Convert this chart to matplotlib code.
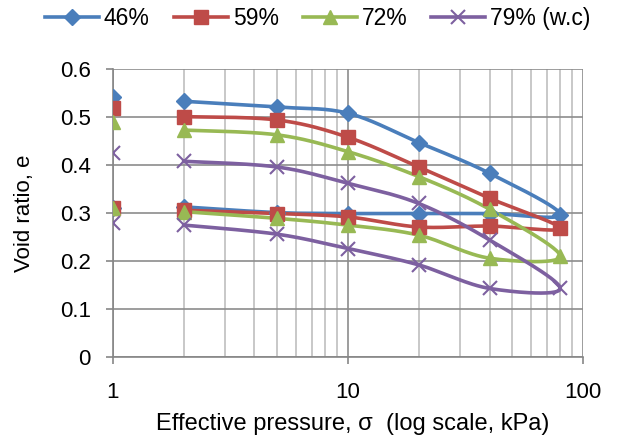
import numpy as np
import matplotlib.pyplot as plt
from matplotlib.ticker import FixedLocator, NullFormatter

plt.rcParams['font.family'] = ['Liberation Sans', 'DejaVu Sans']

# pressure steps: loading 2 -> 80 kPa, then unloading back to 2 kPa
pressure = [2, 5, 10, 20, 40, 80, 40, 20, 10, 5, 2]
labels = ['46%', '59%', '72%', '79% (w.c)']

e_46 = [0.533, 0.521, 0.508, 0.447, 0.383, 0.297, 0.299, 0.299, 0.299, 0.301, 0.313]
e_59 = [0.501, 0.494, 0.458, 0.396, 0.331, 0.268, 0.273, 0.271, 0.292, 0.299, 0.306]
e_72 = [0.473, 0.463, 0.428, 0.376, 0.308, 0.210, 0.206, 0.254, 0.275, 0.289, 0.303]
e_79 = [0.408, 0.396, 0.362, 0.320, 0.244, 0.143, 0.143, 0.192, 0.226, 0.256, 0.275]

# isolated readings at 1 kPa (start and end)
p_start = [1, 1]
e_start_46 = [0.542, 0.311]
e_start_59 = [0.520, 0.310]
e_start_72 = [0.490, 0.310]
e_start_79 = [0.426, 0.279]

colors = ['#4A7EBB', '#BE4B48', '#98B954', '#7D60A0']
markers = ['D', 's', '^', 'x']
msizes = [8, 10, 10, 10]


def smooth(x, y, n=30):
    # Excel-like smoothed line (Catmull-Rom bezier) in log-x space
    lx = np.log10(x)
    pts = np.column_stack([lx, y])
    out = []
    for i in range(len(pts) - 1):
        p0 = pts[i - 1] if i > 0 else pts[i]
        p1 = pts[i]
        p2 = pts[i + 1]
        p3 = pts[i + 2] if i + 2 < len(pts) else pts[i + 1]
        c1 = p1 + (p2 - p0) / 6
        c2 = p2 - (p3 - p1) / 6
        t = np.linspace(0, 1, n)[:, None]
        seg = (1 - t)**3 * p1 + 3 * (1 - t)**2 * t * c1 + 3 * (1 - t) * t**2 * c2 + t**3 * p2
        out.append(seg)
    out = np.vstack(out)
    return 10**out[:, 0], out[:, 1]


fig = plt.figure(figsize=(6.17, 4.43), dpi=100)
ax = fig.add_axes([0.183, 0.194, 0.762, 0.650])

series = [e_46, e_59, e_72, e_79]
starts = [e_start_46, e_start_59, e_start_72, e_start_79]
for e, e0, c, m, ms, lab in zip(series, starts, colors, markers, msizes, labels):
    mw = 1.5 if m == 'x' else 1
    sx, sy = smooth(pressure, e)
    ax.plot(sx, sy, color=c, lw=2.6, zorder=3)
    ax.plot(pressure, e, ls='none', marker=m, ms=ms, color=c, mew=mw, zorder=4)
    ax.plot(p_start, e0, ls='none', marker=m, ms=ms, color=c, mew=mw, zorder=4)
    ax.plot([], [], color=c, lw=2.6, marker=m, ms=ms, label=lab, mew=mw)

ax.set_xscale('log')
ax.set_xlim(1, 100)
ax.set_ylim(0, 0.6)
ax.set_yticks(np.arange(0, 0.61, 0.1))
ax.set_yticklabels(['0', '0.1', '0.2', '0.3', '0.4', '0.5', '0.6'])
ax.xaxis.set_major_locator(FixedLocator([1, 10, 100]))
ax.set_xticklabels(['1', '10', '100'])
ax.xaxis.set_minor_locator(FixedLocator([k * d for d in (1, 10) for k in range(2, 10)]))
ax.xaxis.set_minor_formatter(NullFormatter())

ax.grid(True, which='major', color='#8C8C8C', lw=1.2)
ax.grid(True, which='minor', axis='x', color='#BFBFBF', lw=1.2)
ax.set_axisbelow(True)
for s in ['top', 'right']:
    ax.spines[s].set_visible(False)
for s in ['left', 'bottom']:
    ax.spines[s].set_color('#868686')
    ax.spines[s].set_linewidth(1.2)
ax.tick_params(which='major', length=5, color='#868686', labelsize=16, width=1.2)
ax.tick_params(which='minor', length=0)
ax.tick_params(axis='x', pad=13)
ax.tick_params(axis='y', pad=11)

ax.set_ylabel('Void ratio, e', fontsize=16, va='center')
ax.yaxis.set_label_coords(-0.187, 0.5)
ax.set_xlabel('Effective pressure, σ  (log scale, kPa)', fontsize=17, va='center')
ax.xaxis.set_label_coords(0.51, -0.233)

fig.legend(loc='center', bbox_to_anchor=(0.515, 0.959), ncol=4, frameon=False,
           fontsize=16.5, handlelength=2.35, handletextpad=0.22, columnspacing=1.05,
           borderpad=0, borderaxespad=0)

fig.savefig('out.png', dpi=100)
